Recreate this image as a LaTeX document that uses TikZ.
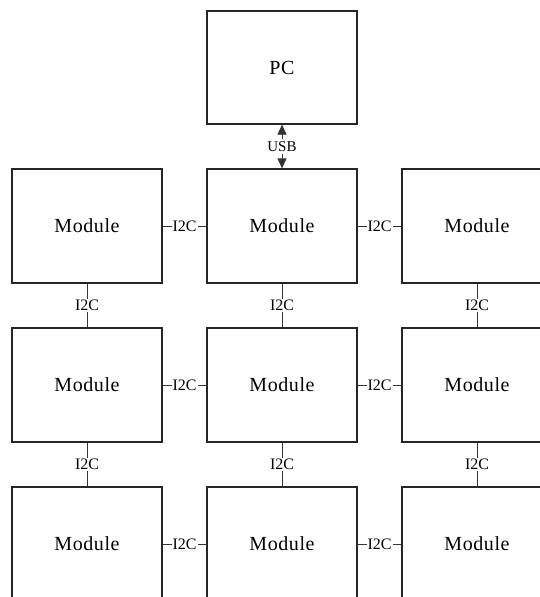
\documentclass[tikz,border=0pt]{standalone}
\usepackage{fontspec}
\setmainfont{Liberation Serif}
\usetikzlibrary{arrows.meta}
\tikzset{
  box/.style={draw=black!85, line width=1.3pt, minimum width=150pt, minimum height=114pt, inner sep=0pt, font=\fontsize{20}{23}\selectfont\addfontfeature{LetterSpace=3}},
  pcbox/.style={box, minimum height=113pt},
  link/.style={draw=black!80, line width=0.8pt},
  lbl/.style={fill=white, inner sep=1pt, font=\fontsize{16}{18}\selectfont},
  usblbl/.style={fill=white, inner sep=2pt, font=\fontsize{15}{17}\selectfont}
}
\begin{document}
\begin{tikzpicture}[x=1pt, y=-1pt]
\useasboundingbox (0,0) rectangle (540,597);
\clip (0,0) rectangle (540,597);
\node[pcbox] (pc) at (282,67.5) {PC};
\node[box] (m11) at (87,226) {Module};
\node[box] (m12) at (282,226) {Module};
\node[box] (m13) at (477,226) {Module};
\node[box] (m21) at (87,385) {Module};
\node[box] (m22) at (282,385) {Module};
\node[box] (m23) at (477,385) {Module};
\node[box] (m31) at (87,544) {Module};
\node[box] (m32) at (282,544) {Module};
\node[box] (m33) at (477,544) {Module};
\draw[link, {Triangle[length=10pt,width=9pt]}-{Triangle[length=10pt,width=9pt]}] (pc.south) -- (m12.north) node[midway, usblbl] {USB};
\foreach \r in {1,2,3}{
  \draw[link] (m\r1.east) -- (m\r2.west) node[midway, lbl] {I2C};
  \draw[link] (m\r2.east) -- (m\r3.west) node[midway, lbl] {I2C};
}
\foreach \c in {1,2,3}{
  \draw[link] (m1\c.south) -- (m2\c.north) node[midway, lbl] {I2C};
  \draw[link] (m2\c.south) -- (m3\c.north) node[midway, lbl] {I2C};
}
\end{tikzpicture}
\end{document}
